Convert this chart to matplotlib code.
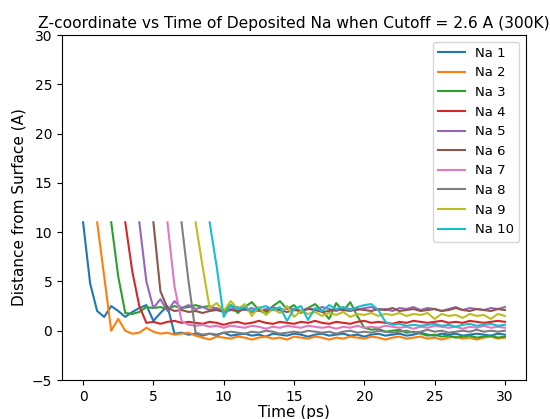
import numpy as np
import matplotlib
matplotlib.use("Agg")
import matplotlib.pyplot as plt

labels = ["Na 1", "Na 2", "Na 3", "Na 4", "Na 5", "Na 6", "Na 7", "Na 8", "Na 9", "Na 10"]
start_times = [0, 1, 2, 3, 4, 5, 6, 7, 8, 9]
step = 0.5

na1 = [11.0, 4.8, 2.0, 1.4, 2.5, 2.0, 1.4, 1.9, 2.3, 2.6,
       1.0, 1.8, 2.5, -0.3, -0.2, -0.4, -0.3, -0.5, -0.3, -0.4,
       -0.2, -0.5, -0.4, -0.3, -0.5, -0.4, -0.6, -0.3, -0.4, -0.5,
       -0.3, -0.4, -0.6, -0.4, -0.3, -0.5, -0.4, -0.3, -0.5, -0.4,
       -0.6, -0.4, -0.3, -0.5, -0.4, -0.3, -0.5, -0.4, -0.2, -0.4,
       -0.5, -0.3, -0.4, -0.3, -0.5, -0.4, -0.3, -0.4, -0.5, -0.3,
       -0.4]
na2 = [11.0, 5.5, 0.0, 1.2, 0.0, -0.3, -0.2, 0.3, -0.1, -0.3,
       -0.2, -0.4, -0.3, -0.2, -0.5, -0.7, -0.9, -0.6, -0.7, -0.8,
       -0.6, -0.7, -0.9, -0.7, -0.6, -0.8, -0.7, -0.9, -0.6, -0.7,
       -0.8, -0.6, -0.7, -0.9, -0.7, -0.8, -0.6, -0.7, -0.8, -0.6,
       -0.7, -0.9, -0.7, -0.6, -0.8, -0.7, -0.6, -0.8, -0.7, -0.9,
       -0.7, -0.6, -0.8, -0.7, -0.9, -0.7, -0.6, -0.8, -0.7]
na3 = [11.0, 5.5, 1.8, 1.7, 1.9, 2.4, 2.3, 2.4, 2.2, 2.5,
       2.3, 2.4, 2.6, 2.4, 2.5, 2.2, 2.0, 2.6, 1.8, 2.4,
       2.9, 2.1, 1.7, 2.5, 3.0, 2.2, 2.6, 1.8, 2.3, 2.7,
       2.0, 1.2, 2.8, 2.0, 2.9, 1.5, 0.3, 0.1, 0.2, -0.1,
       0.0, 0.1, -0.2, -0.1, -0.3, -0.5, -0.4, -0.6, -0.5, -0.7,
       -0.6, -0.5, -0.7, -0.6, -0.5, -0.7, -0.6]
na4 = [11.0, 6.0, 2.5, 0.8, 0.9, 0.7, 0.9, 1.0, 0.8, 0.9,
       0.8, 0.7, 0.9, 0.8, 0.6, 0.8, 0.9, 0.7, 0.8, 1.0,
       0.8, 0.7, 0.9, 0.8, 0.7, 0.9, 0.8, 1.0, 0.8, 0.7,
       0.9, 0.8, 0.7, 0.9, 1.0, 0.8, 0.9, 0.8, 0.7, 0.9,
       0.8, 1.0, 0.9, 0.8, 0.9, 1.0, 0.8, 0.9, 0.8, 1.0,
       0.9, 0.8, 0.9, 1.0, 0.9]
na5 = [11.0, 5.0, 2.3, 3.2, 2.0, 3.0, 2.3, 2.6, 2.2, 2.4,
       2.1, 2.3, 2.0, 2.2, 2.4, 2.1, 2.3, 2.0, 2.2, 2.4,
       2.1, 2.3, 2.2, 2.0, 2.3, 2.1, 2.4, 2.2, 2.0, 2.3,
       2.2, 2.1, 2.3, 2.4, 2.1, 2.2, 2.0, 2.3, 2.2, 2.4,
       2.1, 2.3, 2.2, 2.0, 2.2, 2.4, 2.1, 2.3, 2.2, 2.1,
       2.3, 2.2, 2.4]
na6 = [11.0, 4.0, 2.3, 2.0, 2.1, 1.9, 2.0, 1.8, 2.0, 2.1,
       1.9, 2.1, 2.0, 2.2, 1.9, 2.1, 2.0, 2.2, 2.1, 1.9,
       2.1, 2.0, 2.2, 2.1, 1.9, 2.0, 2.2, 2.1, 2.0, 2.2,
       2.1, 2.0, 2.2, 2.1, 2.3, 2.0, 2.1, 2.2, 2.0, 2.1,
       2.2, 2.0, 2.1, 2.3, 2.1, 2.0, 2.2, 2.1, 2.0, 2.2,
       2.1]
na7 = [11.0, 4.5, 1.0, 0.6, 0.5, 0.6, 0.4, 0.5, 0.3, 0.5,
       0.4, 0.3, 0.5, 0.4, 0.2, 0.4, 0.3, 0.5, 0.4, 0.3,
       0.5, 0.4, 0.3, 0.4, 0.2, 0.4, 0.3, 0.5, 0.3, 0.4,
       0.3, 0.5, 0.4, 0.3, 0.4, 0.2, 0.4, 0.3, 0.5, 0.4,
       0.3, 0.4, 0.2, 0.4, 0.3, 0.5, 0.3, 0.4, 0.3]
na8 = [11.0, 5.0, -0.2, -0.4, -0.3, -0.5, -0.2, -0.1, -0.2, -0.3,
       -0.1, -0.2, 0.0, -0.1, -0.3, -0.2, -0.1, -0.2, 0.0, -0.1,
       -0.2, -0.1, -0.3, -0.1, 0.0, -0.2, -0.1, -0.2, 0.0, -0.1,
       -0.2, -0.1, 0.0, -0.2, -0.1, 0.1, -0.1, 0.0, -0.2, -0.1,
       0.0, -0.1, 0.1, -0.1, 0.0, -0.1, 0.0]
na9 = [11.0, 6.5, 2.3, 2.8, 2.0, 3.0, 2.2, 2.7, 1.5, 2.4,
       1.6, 2.2, 1.8, 2.5, 1.4, 2.0, 1.7, 1.9, 1.5, 1.8,
       1.6, 1.9, 1.4, 1.7, 1.6, 1.8, 1.5, 1.7, 1.6, 1.8,
       1.5, 1.7, 1.6, 1.8, 1.2, 1.7, 1.5, 1.6, 1.3, 1.7,
       1.5, 1.6, 1.2, 1.7, 1.5]
na10 = [11.0, 6.5, 1.4, 2.6, 2.2, 2.4, 2.0, 2.3, 2.5, 2.1,
        2.4, 1.0, 2.2, 2.5, 1.1, 2.3, 2.0, 2.6, 2.2, 2.4,
        2.1, 2.4, 2.6, 2.7, 2.1, 0.9, 0.6, 0.7, 0.5, 0.6,
        0.5, 0.6, 0.7, 0.5, 0.6, 0.4, 0.6, 0.7, 0.5, 0.6,
        0.7, 0.5, 0.6]

series = [na1, na2, na3, na4, na5, na6, na7, na8, na9, na10]

fig = plt.figure(figsize=(5.5, 4.19), dpi=100)
ax = fig.add_axes([62 / 550, 1 - 380 / 419, 464 / 550, 345 / 419])

for s, vals, lab in zip(start_times, series, labels):
    t = s + step * np.arange(len(vals))
    ax.plot(t, vals, label=lab)

ax.set_ylim(-5, 30)
ax.set_xticks([0, 5, 10, 15, 20, 25, 30])
ax.set_title("Z-coordinate vs Time of Deposited Na when Cutoff = 2.6 A (300K)",
             fontsize=11.2, pad=5)
ax.set_xlabel("Time (ps)", fontsize=11, labelpad=1)
ax.set_ylabel("Distance from Surface (A)", fontsize=11)
ax.legend(loc="upper right", fontsize=9.5)

fig.savefig("out.png", dpi=100)
